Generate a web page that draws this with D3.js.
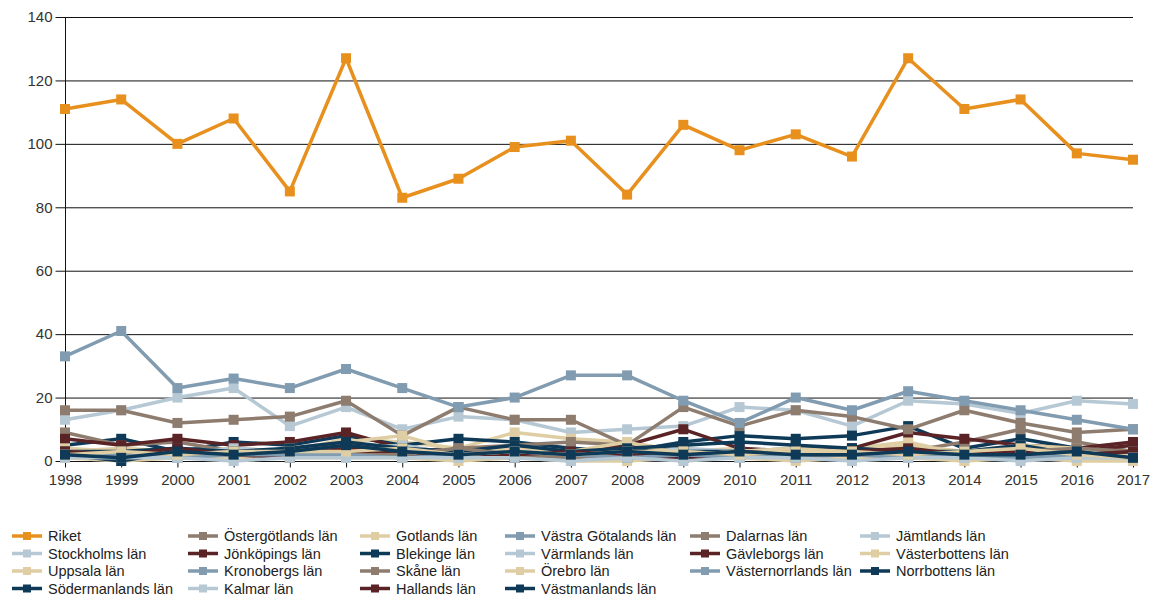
<!DOCTYPE html>
<html><head><meta charset="utf-8">
<script src="https://cdn.jsdelivr.net/npm/d3@7"></script>
<style>body{margin:0;background:#fff;font-family:"Liberation Sans",Arial,sans-serif}</style>
</head><body><svg id="c" width="1161" height="598"></svg>
<script>
const years = [1998,1999,2000,2001,2002,2003,2004,2005,2006,2007,2008,2009,2010,2011,2012,2013,2014,2015,2016,2017];
const yTicks = [0,20,40,60,80,100,120,140];
const seriesNames = ["Riket","Stockholms län","Uppsala län","Södermanlands län","Östergötlands län","Jönköpings län","Kronobergs län","Kalmar län","Gotlands län","Blekinge län","Skåne län","Hallands län","Västra Götalands län","Värmlands län","Örebro län","Västmanlands län","Dalarnas län","Gävleborgs län","Västernorrlands län","Jämtlands län","Västerbottens län","Norrbottens län"];
const riket = [111,114,100,108,85,127,83,89,99,101,84,106,98,103,96,127,111,114,97,95];
const stockholm = [13,16,20,23,11,17,10,14,13,9,10,11,17,16,11,19,18,15,19,18];
const uppsala = [3,4,3,4,3,7,6,4,9,7,6,3,4,3,4,6,2,5,3,1];
const sodermanland = [5,7,3,6,5,8,5,7,6,4,3,6,8,7,8,11,4,7,4,2];
const ostergotland = [9,5,6,3,3,5,3,4,5,6,5,3,3,4,4,3,6,10,6,3];
const jonkoping = [7,5,7,5,6,9,4,3,1,3,5,10,4,3,4,9,7,5,4,6];
const kronoberg = [2,1,3,2,3,2,2,3,2,2,1,1,2,2,1,2,1,2,1,1];
const kalmar = [2,1,4,3,2,3,3,2,4,3,2,4,3,2,3,4,3,2,1,2];
const gotland = [1,0,1,1,1,1,1,0,1,0,0,1,1,0,1,1,0,1,0,0];
const blekinge = [2,0,3,2,3,3,2,3,3,2,2,3,3,2,3,2,2,3,2,1];
const skane = [16,16,12,13,14,19,8,17,13,13,5,17,11,16,14,10,16,12,9,10];
const halland = [2,3,2,2,1,3,2,2,1,2,1,1,2,3,2,2,3,2,3,5];
const vastraGotaland = [33,41,23,26,23,29,23,17,20,27,27,19,12,20,16,22,19,16,13,10];
const varmland = [3,2,2,4,3,4,5,2,3,2,3,2,3,4,2,3,1,3,2,3];
const orebro = [4,3,3,2,4,6,8,3,4,3,6,2,3,4,3,5,3,5,4,2];
const vastmanland = [3,3,4,3,4,6,4,3,5,3,4,5,6,5,4,3,3,5,2,3];
const dalarna = [3,2,2,3,2,2,2,4,2,1,2,3,2,1,3,2,2,3,4,3];
const gavleborg = [3,2,4,2,2,4,3,2,2,3,2,1,3,2,3,4,2,3,2,3];
const vasternorrland = [2,2,1,2,2,2,1,2,3,2,1,2,1,2,2,1,2,1,2,1];
const jamtland = [1,1,1,0,1,1,1,1,1,0,1,0,1,1,0,1,1,0,1,1];
const vasterbotten = [2,3,2,3,3,3,4,2,3,2,3,3,2,3,3,2,3,4,2,1];
const norrbotten = [2,1,3,2,3,5,3,2,3,2,3,2,3,2,2,3,2,2,3,1];
const seriesValues = [riket,stockholm,uppsala,sodermanland,ostergotland,jonkoping,kronoberg,kalmar,gotland,blekinge,skane,halland,vastraGotaland,varmland,orebro,vastmanland,dalarna,gavleborg,vasternorrland,jamtland,vasterbotten,norrbotten];

const palette = ["#b5c8d4","#dfcea3","#0e3a57","#8e7c6f","#5a2326","#819cb0"];
const colorOf = i => i === 0 ? "#e8901e" : palette[(i-1) % 6];
const FONT = "'Liberation Sans',Arial,sans-serif";

const svg = d3.select("#c");
const L = 65, R = 1133, T = 17, B = 461;
const x = d3.scalePoint().domain(years).range([L, R]);
const y = d3.scaleLinear().domain([0,140]).range([B, T]);

svg.append("g").selectAll("line").data(yTicks.filter(t=>t>0)).join("line")
  .attr("x1", L).attr("x2", R).attr("y1", d=>y(d)+0.5).attr("y2", d=>y(d)+0.5)
  .attr("stroke", "#111").attr("stroke-width", 1);

const yAxis = svg.append("g").attr("transform", `translate(${L+0.5},0)`)
  .call(d3.axisLeft(y).tickValues(yTicks).tickSize(10).tickPadding(3));
const xAxis = svg.append("g").attr("transform", `translate(0,${B+0.5})`)
  .call(d3.axisBottom(x).tickSize(6).tickPadding(7));
[yAxis, xAxis].forEach(g => {
  g.selectAll("path,line").attr("stroke","#111");
  g.selectAll("text").attr("fill","#333").style("font-size","15px").style("font-family",FONT);
});
yAxis.select(".domain").attr("d", `M0,${T}V${B}`);
xAxis.select(".domain").attr("d", `M${L},0H${R}`);

const line = d3.line().x((d,i)=>x(years[i])).y(d=>y(d));
const gS = svg.append("g");
seriesValues.forEach((vals, si) => {
  const c = colorOf(si);
  const g = gS.append("g");
  g.append("path").attr("d", line(vals)).attr("fill","none").attr("stroke", c).attr("stroke-width", 3.5).attr("stroke-linejoin","round");
  g.selectAll("rect").data(vals).join("rect")
    .attr("x", (d,i)=>x(years[i])-5).attr("y", d=>y(d)-5).attr("width",10).attr("height",10).attr("fill", c);
});

// legend: columns filled top-down, 4 items in first four columns, 3 in the last two
const colX = [12, 188, 360, 505, 690, 860];
const rowY = [536, 553.5, 571, 588.5];
const lg = svg.append("g");
seriesNames.forEach((name, i) => {
  let col, row;
  if (i < 16) { col = Math.floor(i/4); row = i % 4; }
  else { const j = i - 16; col = 4 + Math.floor(j/3); row = j % 3; }
  const c = colorOf(i);
  const it = lg.append("g").attr("transform", `translate(${colX[col]},${rowY[row]})`);
  it.append("line").attr("x1",0).attr("x2",30).attr("y1",0).attr("y2",0).attr("stroke",c).attr("stroke-width",3.5);
  it.append("rect").attr("x",11).attr("y",-4).attr("width",8).attr("height",8).attr("fill",c);
  it.append("text").attr("x",36).attr("y",5).text(name).attr("fill","#222")
    .style("font-size","14.5px").style("font-family",FONT);
});
</script></body></html>
